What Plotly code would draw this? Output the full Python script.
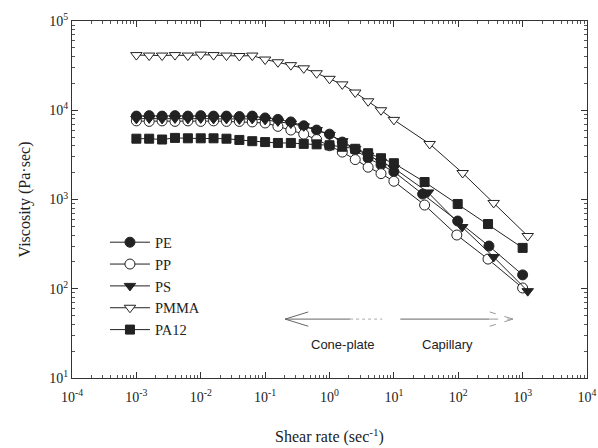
import plotly.graph_objects as go

# Shear rates (1/s) measured on the cone-plate rheometer
cone_rate = [0.001, 0.00158, 0.00251, 0.00398, 0.00631, 0.01, 0.0158, 0.0251,
             0.0398, 0.0631, 0.1, 0.158, 0.251, 0.398, 0.631, 1.0, 1.58, 2.51,
             3.98, 6.31, 10.0]

# Viscosity (Pa·s) from the cone-plate runs
pe_cone = [8600, 8700, 8600, 8700, 8600, 8700, 8600, 8600, 8500, 8600, 8200,
           7900, 7400, 6700, 6000, 5400, 4400, 3600, 2900, 2450, 2050]
pp_cone = [7600, 7500, 7600, 7500, 7600, 7500, 7600, 7500, 7500, 7400, 7200,
           6600, 6000, 5400, 4700, 4000, 3400, 2800, 2300, 1950, 1600]
ps_cone = [8000, 8100, 8000, 8100, 8000, 8100, 8000, 8000, 7900, 8000, 7800,
           7500, 7100, 6600, 6000, 5300, 4500, 3700, 3100, 2650, 2250]
pmma_cone = [41500, 41000, 41000, 41500, 41000, 42000, 41500, 41000, 40500,
             41000, 37000, 34500, 32000, 29500, 26000, 22500, 19500, 15800,
             12600, 10000, 7800]
pa12_cone = [4800, 4800, 4700, 4900, 4850, 4850, 4850, 4800, 4650, 4500, 4400,
             4300, 4300, 4200, 4150, 4050, 3900, 3700, 3300, 2900, 2550]

# Capillary rheometer: shear rates and viscosities per polymer
pe_cap_rate = [28, 98, 300, 1000]
pe_cap = [1150, 574, 301, 143]
pp_cap_rate = [30, 95, 290, 1000]
pp_cap = [867, 400, 215, 102]
ps_cap_rate = [34, 115, 355, 1200]
ps_cap = [1200, 492, 227, 94]
pmma_cap_rate = [36, 117, 355, 1200]
pmma_cap = [4190, 1980, 915, 390]
pa12_cap_rate = [30, 98, 290, 1000]
pa12_cap = [1570, 891, 531, 287]

x_ticks = [1e-4, 1e-3, 1e-2, 1e-1, 1, 10, 100, 1000, 10000]
x_ticktext = ["10<sup>-4</sup>", "10<sup>-3</sup>", "10<sup>-2</sup>", "10<sup>-1</sup>",
              "10<sup>0</sup>", "10<sup>1</sup>", "10<sup>2</sup>", "10<sup>3</sup>",
              "10<sup>4</sup>"]
y_ticks = [10, 100, 1000, 10000, 100000]
y_ticktext = ["10<sup>1</sup>", "10<sup>2</sup>", "10<sup>3</sup>", "10<sup>4</sup>",
              "10<sup>5</sup>"]

SERIF = "Liberation Serif, Times New Roman, serif"
SANS = "Liberation Sans, Arial, sans-serif"
LINE = "#222222"

series = [
    ("PE", pe_cone, pe_cap_rate, pe_cap, "circle", LINE),
    ("PP", pp_cone, pp_cap_rate, pp_cap, "circle", "white"),
    ("PS", ps_cone, ps_cap_rate, ps_cap, "triangle-down", LINE),
    ("PMMA", pmma_cone, pmma_cap_rate, pmma_cap, "triangle-down", "white"),
    ("PA12", pa12_cone, pa12_cap_rate, pa12_cap, "square", LINE),
]

fig = go.Figure()
for name, cone, cap_rate, cap, symbol, fill in series:
    fig.add_trace(go.Scatter(
        x=cone_rate + cap_rate,
        y=cone + cap,
        mode="lines+markers",
        name=name,
        line=dict(color=LINE, width=1),
        marker=dict(symbol=symbol, size=10 if symbol != "square" else 9,
                    color=fill, line=dict(color=LINE, width=1)),
    ))

# Measuring-range arrow (drawn in paper coordinates from log shear rates)
def xfrac(log_rate):
    return (log_rate + 4) / 8.0

def yfrac(log_visc):
    return (log_visc - 1) / 4.0

ARROW_Y = yfrac(1.66)
ARROW_COLOR = "#666666"
left_tip, left_solid_end, dots_end = -0.69, 0.32, 0.82
right_start, right_solid_end, right_tip = 1.10, 2.48, 2.85
head_len, head_dy = 0.36, 0.02

shapes = [
    dict(type="line", xref="paper", yref="paper", x0=xfrac(left_tip), x1=xfrac(left_solid_end),
         y0=ARROW_Y, y1=ARROW_Y, line=dict(color=ARROW_COLOR, width=1)),
    dict(type="line", xref="paper", yref="paper", x0=xfrac(left_solid_end), x1=xfrac(dots_end),
         y0=ARROW_Y, y1=ARROW_Y, line=dict(color="#aaaaaa", width=1, dash="dot")),
    dict(type="line", xref="paper", yref="paper", x0=xfrac(right_start), x1=xfrac(right_solid_end),
         y0=ARROW_Y, y1=ARROW_Y, line=dict(color=ARROW_COLOR, width=1)),
    dict(type="line", xref="paper", yref="paper", x0=xfrac(right_solid_end), x1=xfrac(right_tip),
         y0=ARROW_Y, y1=ARROW_Y, line=dict(color="#999999", width=1, dash="dash")),
]
for sgn in (1, -1):
    shapes.append(dict(type="line", xref="paper", yref="paper",
                       x0=xfrac(left_tip), x1=xfrac(left_tip + head_len),
                       y0=ARROW_Y, y1=ARROW_Y + sgn * head_dy,
                       line=dict(color=ARROW_COLOR, width=1)))
    shapes.append(dict(type="line", xref="paper", yref="paper",
                       x0=xfrac(right_tip), x1=xfrac(right_tip - head_len),
                       y0=ARROW_Y, y1=ARROW_Y + sgn * head_dy,
                       line=dict(color="#999999", width=1, dash="dash")))

annotations = [
    dict(text="Cone-plate", x=xfrac(0.21), y=yfrac(1.38), xref="paper", yref="paper",
         xanchor="center", yanchor="middle",
         showarrow=False, font=dict(family=SANS, size=13, color="#222")),
    dict(text="Capillary", x=xfrac(1.83), y=yfrac(1.38), xref="paper", yref="paper",
         xanchor="center", yanchor="middle",
         showarrow=False, font=dict(family=SANS, size=13, color="#222")),
]

axis_common = dict(
    type="log", automargin=False,
    showline=True, linecolor="#333", linewidth=1, mirror="ticks",
    ticks="inside", ticklen=6, tickcolor="#333",
    showgrid=False, zeroline=False,
    tickfont=dict(family=SERIF, size=14, color="#222"),
    tickmode="array",
)

minor_x = [d * 10 ** k for k in range(-4, 4) for d in range(2, 10)]
minor_y = [d * 10 ** k for k in range(1, 5) for d in range(2, 10)]

fig.update_xaxes(
    **axis_common, range=[-4, 4], tickvals=x_ticks, ticktext=x_ticktext,
    ticklabelstandoff=6,
    minor=dict(ticks="inside", ticklen=3, tickcolor="#555", tickmode="array", tickvals=minor_x),
    title=dict(text="Shear rate (sec<sup>-1</sup>)", standoff=27,
               font=dict(family=SERIF, size=16, color="#222")),
)
fig.update_yaxes(
    **axis_common, range=[1, 5], tickvals=y_ticks, ticktext=y_ticktext,
    minor=dict(ticks="inside", ticklen=3, tickcolor="#555", tickmode="array", tickvals=minor_y),
    title=dict(text="Viscosity (Pa·sec)", standoff=14,
               font=dict(family=SERIF, size=16, color="#222")),
)

fig.update_layout(
    width=598, height=448,
    margin=dict(l=72, r=11, t=21, b=70),
    paper_bgcolor="white", plot_bgcolor="white",
    shapes=shapes, annotations=annotations,
    legend=dict(x=0.064, y=0.425, xanchor="left", yanchor="top",
                bgcolor="rgba(0,0,0,0)", font=dict(family=SERIF, size=14.5, color="#222"),
                tracegroupgap=0, itemwidth=40),
)

fig.write_html("out.html")
